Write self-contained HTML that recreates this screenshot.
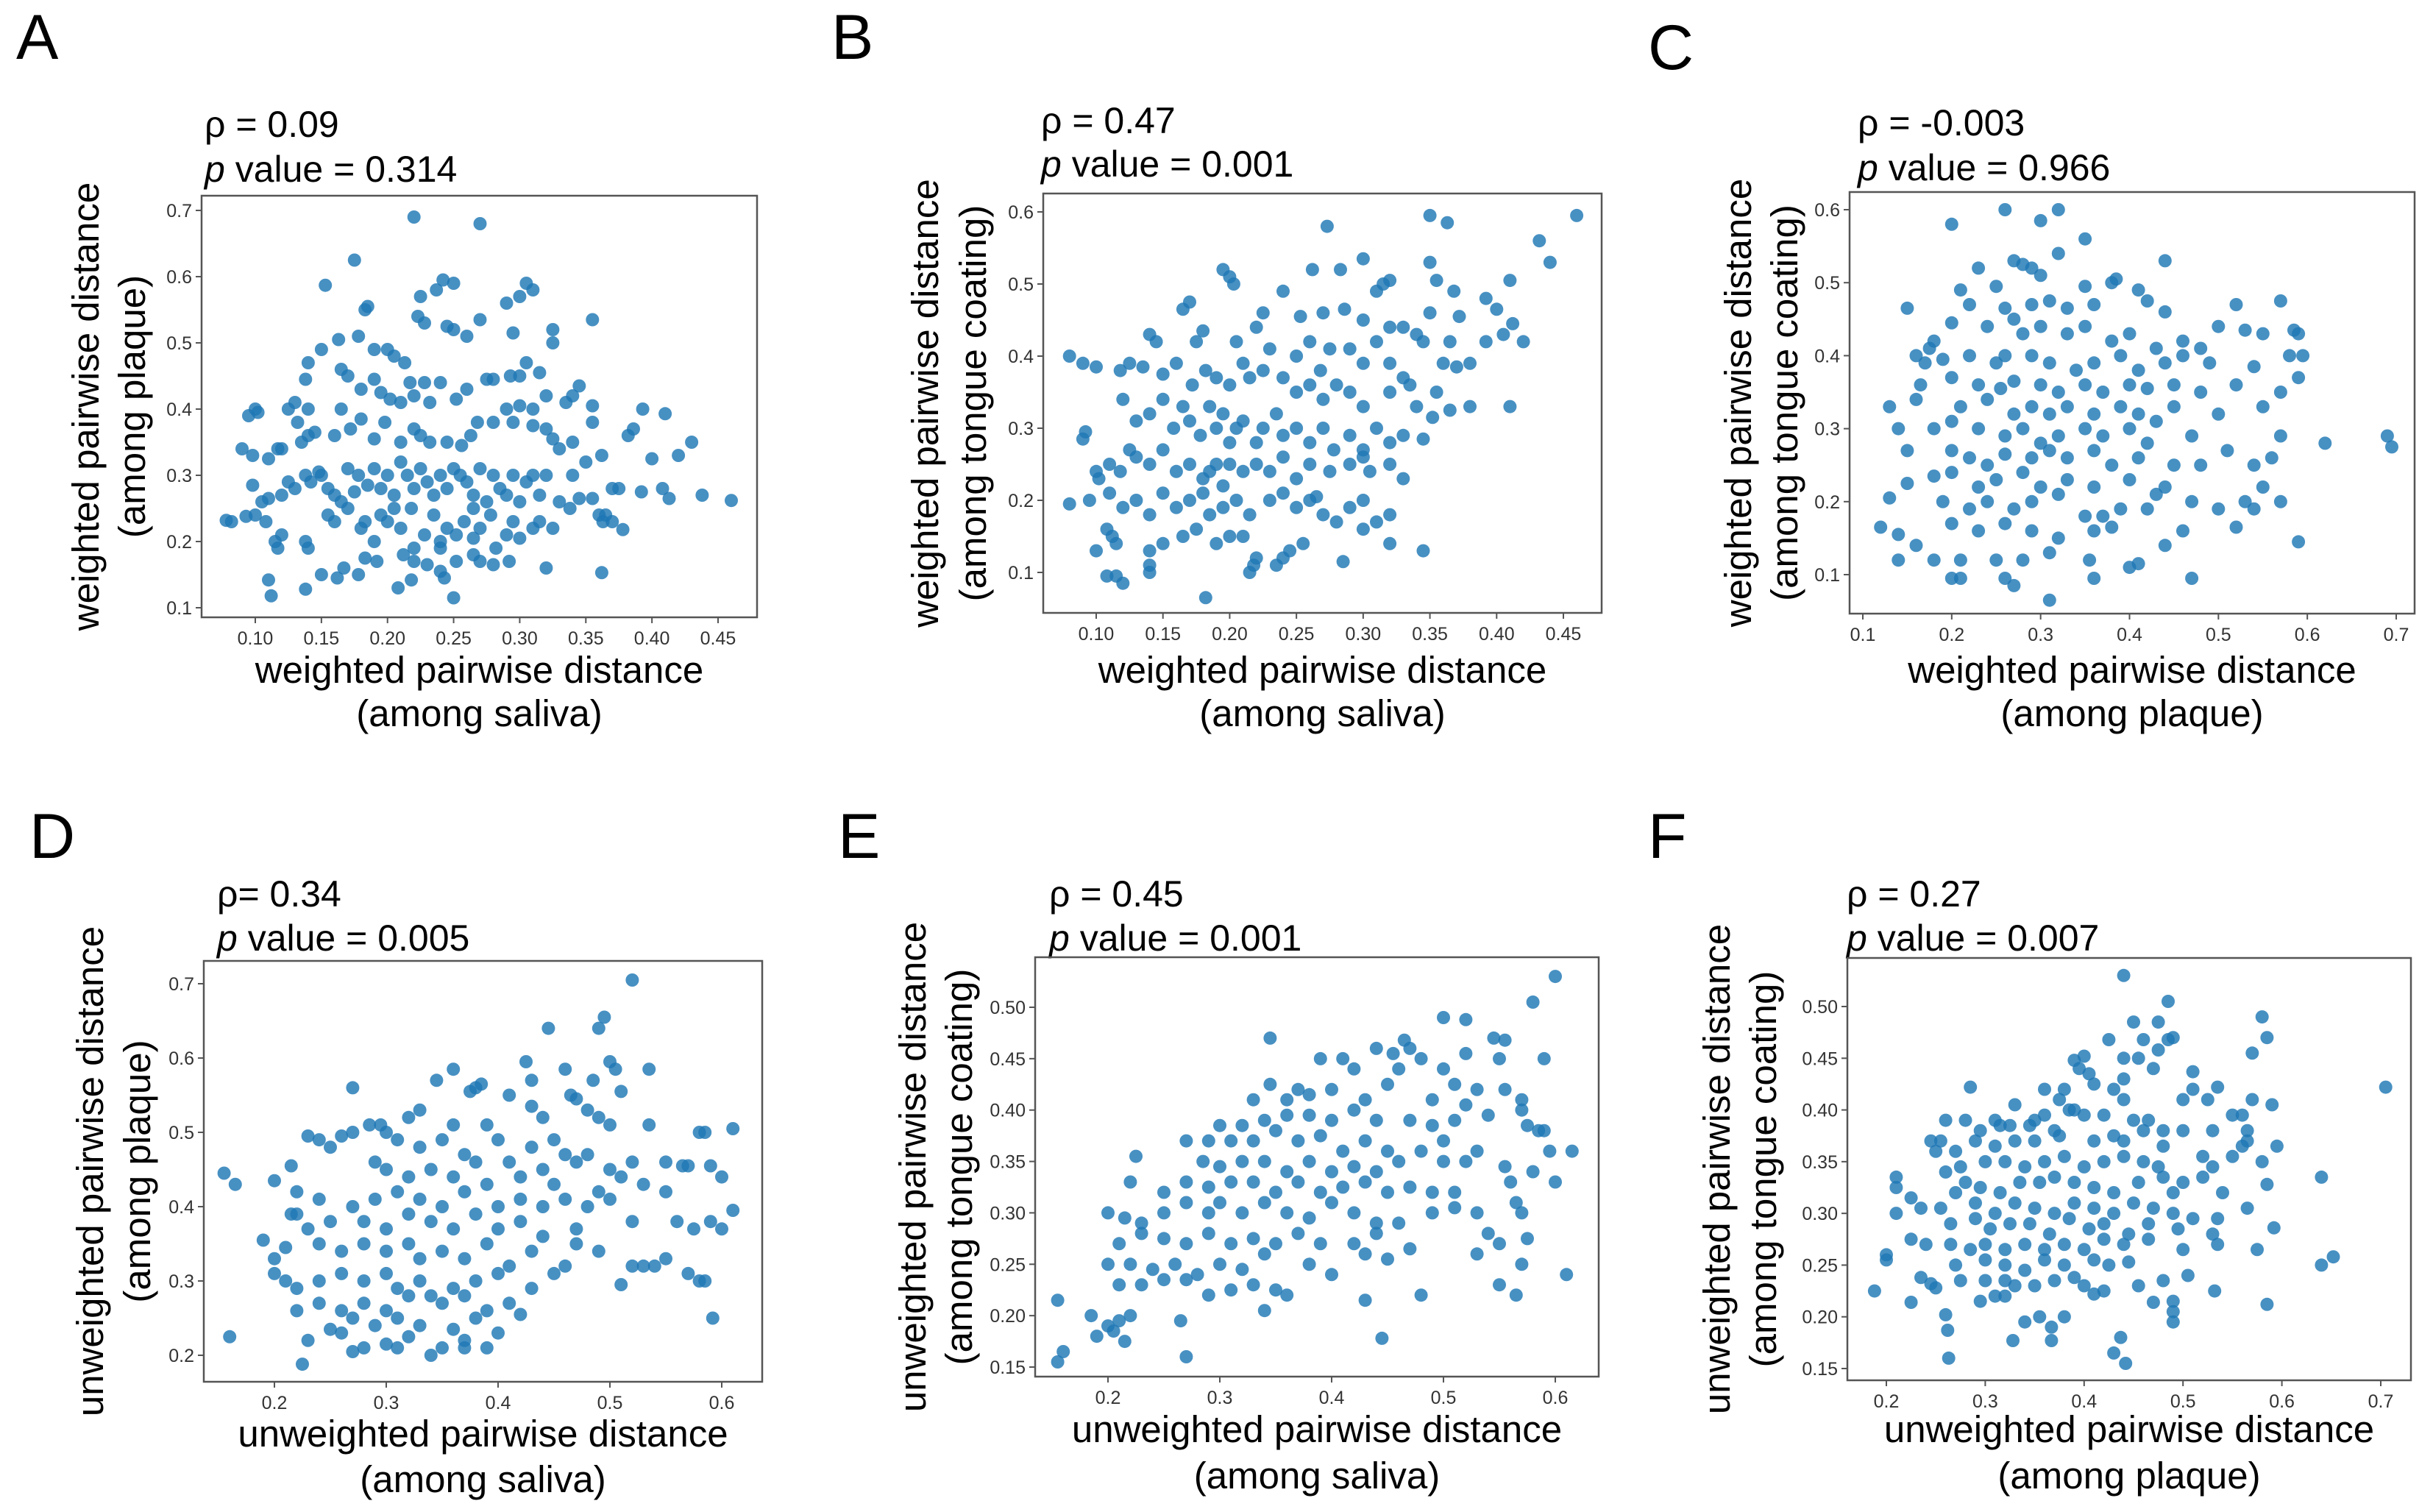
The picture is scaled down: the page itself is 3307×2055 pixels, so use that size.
<!DOCTYPE html>
<html><head><meta charset="utf-8"><style>
html,body{margin:0;padding:0;background:#fff}
svg{display:block}
text{font-family:"Liberation Sans",sans-serif;fill:#000}
.tick{font-size:25px;fill:#333}
.lab{font-size:51px}
.stat{font-size:50px}
.letter{font-size:86px}
</style></head><body>
<svg id="fig" width="3307" height="2055" viewBox="0 0 3307 2055" xmlns="http://www.w3.org/2000/svg"></svg>
<script>
const ptsA=[[0.22,0.69],[0.27,0.68],[0.175,0.625],[0.153,0.587],[0.225,0.57],[0.237,0.58],[0.242,0.595],[0.25,0.59],[0.30,0.57],[0.305,0.59],[0.31,0.58],[0.29,0.56],[0.183,0.55],[0.185,0.555],[0.223,0.54],[0.228,0.53],[0.245,0.525],[0.25,0.52],[0.26,0.51],[0.27,0.535],[0.295,0.515],[0.325,0.52],[0.355,0.535],[0.325,0.5],[0.163,0.505],[0.15,0.49],[0.178,0.51],[0.14,0.47],[0.19,0.49],[0.2,0.49],[0.205,0.48],[0.213,0.47],[0.165,0.46],[0.17,0.45],[0.138,0.445],[0.18,0.43],[0.19,0.445],[0.195,0.425],[0.202,0.415],[0.21,0.41],[0.217,0.44],[0.22,0.42],[0.228,0.44],[0.232,0.41],[0.24,0.44],[0.252,0.415],[0.26,0.43],[0.275,0.445],[0.28,0.445],[0.293,0.45],[0.3,0.45],[0.305,0.47],[0.315,0.455],[0.31,0.4],[0.32,0.42],[0.335,0.41],[0.345,0.435],[0.34,0.42],[0.355,0.405],[0.095,0.39],[0.1,0.4],[0.102,0.395],[0.125,0.4],[0.13,0.41],[0.14,0.4],[0.132,0.38],[0.14,0.36],[0.145,0.365],[0.135,0.35],[0.09,0.34],[0.098,0.33],[0.11,0.325],[0.117,0.34],[0.12,0.34],[0.165,0.4],[0.16,0.36],[0.172,0.37],[0.18,0.385],[0.19,0.355],[0.198,0.38],[0.21,0.35],[0.22,0.37],[0.225,0.36],[0.232,0.35],[0.245,0.35],[0.256,0.345],[0.263,0.36],[0.268,0.38],[0.28,0.38],[0.29,0.4],[0.295,0.38],[0.3,0.405],[0.31,0.375],[0.32,0.37],[0.325,0.355],[0.33,0.34],[0.34,0.35],[0.35,0.32],[0.355,0.38],[0.362,0.33],[0.382,0.36],[0.386,0.37],[0.393,0.4],[0.41,0.393],[0.43,0.35],[0.4,0.325],[0.42,0.33],[0.098,0.285],[0.105,0.26],[0.11,0.265],[0.12,0.27],[0.125,0.29],[0.13,0.28],[0.138,0.3],[0.142,0.29],[0.148,0.305],[0.15,0.3],[0.155,0.28],[0.16,0.27],[0.165,0.26],[0.17,0.31],[0.175,0.275],[0.178,0.3],[0.185,0.285],[0.19,0.31],[0.195,0.28],[0.2,0.3],[0.205,0.27],[0.21,0.32],[0.215,0.3],[0.22,0.28],[0.225,0.31],[0.23,0.29],[0.235,0.27],[0.24,0.3],[0.245,0.28],[0.25,0.31],[0.255,0.3],[0.26,0.29],[0.265,0.27],[0.27,0.31],[0.275,0.26],[0.28,0.3],[0.285,0.28],[0.29,0.27],[0.295,0.3],[0.3,0.26],[0.305,0.29],[0.31,0.3],[0.315,0.27],[0.32,0.3],[0.33,0.26],[0.34,0.3],[0.345,0.265],[0.355,0.265],[0.36,0.24],[0.37,0.28],[0.375,0.28],[0.392,0.275],[0.408,0.28],[0.413,0.265],[0.438,0.27],[0.46,0.262],[0.078,0.232],[0.082,0.23],[0.093,0.238],[0.1,0.24],[0.108,0.23],[0.115,0.2],[0.117,0.19],[0.12,0.21],[0.138,0.2],[0.14,0.19],[0.155,0.24],[0.16,0.23],[0.17,0.25],[0.18,0.22],[0.183,0.23],[0.19,0.2],[0.195,0.24],[0.2,0.23],[0.205,0.25],[0.21,0.22],[0.218,0.25],[0.22,0.19],[0.228,0.21],[0.235,0.24],[0.24,0.2],[0.245,0.22],[0.252,0.21],[0.258,0.23],[0.265,0.25],[0.27,0.22],[0.278,0.24],[0.282,0.19],[0.29,0.21],[0.295,0.23],[0.31,0.22],[0.315,0.23],[0.325,0.22],[0.338,0.25],[0.363,0.23],[0.365,0.24],[0.37,0.23],[0.378,0.218],[0.11,0.142],[0.112,0.118],[0.138,0.128],[0.15,0.15],[0.162,0.145],[0.167,0.16],[0.178,0.15],[0.183,0.175],[0.192,0.17],[0.208,0.13],[0.212,0.18],[0.218,0.142],[0.22,0.17],[0.23,0.165],[0.24,0.155],[0.243,0.145],[0.25,0.115],[0.252,0.17],[0.265,0.18],[0.27,0.17],[0.28,0.165],[0.292,0.17],[0.32,0.16],[0.362,0.153],[0.24,0.19],[0.265,0.205],[0.3,0.205]];
const ptsB=[[0.46,0.595],[0.35,0.595],[0.363,0.585],[0.273,0.58],[0.432,0.56],[0.44,0.53],[0.35,0.53],[0.3,0.535],[0.283,0.52],[0.262,0.52],[0.195,0.52],[0.2,0.51],[0.203,0.5],[0.315,0.5],[0.31,0.49],[0.32,0.505],[0.355,0.505],[0.368,0.49],[0.41,0.505],[0.392,0.48],[0.4,0.465],[0.412,0.445],[0.42,0.42],[0.405,0.43],[0.392,0.42],[0.24,0.49],[0.17,0.475],[0.165,0.465],[0.225,0.46],[0.253,0.455],[0.27,0.46],[0.286,0.465],[0.3,0.45],[0.32,0.44],[0.33,0.44],[0.34,0.43],[0.35,0.46],[0.372,0.455],[0.345,0.42],[0.36,0.39],[0.37,0.385],[0.38,0.39],[0.365,0.42],[0.14,0.43],[0.145,0.42],[0.18,0.435],[0.175,0.42],[0.205,0.42],[0.22,0.44],[0.23,0.41],[0.25,0.4],[0.26,0.42],[0.268,0.38],[0.275,0.41],[0.29,0.41],[0.3,0.39],[0.31,0.42],[0.32,0.39],[0.33,0.37],[0.335,0.36],[0.08,0.4],[0.09,0.39],[0.1,0.385],[0.118,0.38],[0.125,0.39],[0.135,0.385],[0.15,0.375],[0.16,0.39],[0.172,0.36],[0.182,0.38],[0.19,0.37],[0.2,0.36],[0.21,0.39],[0.215,0.37],[0.225,0.38],[0.24,0.37],[0.25,0.35],[0.26,0.36],[0.27,0.34],[0.28,0.36],[0.29,0.35],[0.3,0.33],[0.32,0.35],[0.34,0.33],[0.355,0.35],[0.38,0.33],[0.41,0.33],[0.352,0.315],[0.365,0.325],[0.12,0.34],[0.13,0.31],[0.14,0.32],[0.15,0.34],[0.158,0.3],[0.165,0.33],[0.17,0.31],[0.178,0.29],[0.185,0.33],[0.19,0.3],[0.195,0.32],[0.2,0.28],[0.205,0.3],[0.21,0.31],[0.22,0.28],[0.225,0.3],[0.235,0.32],[0.24,0.29],[0.25,0.3],[0.26,0.28],[0.27,0.3],[0.278,0.27],[0.29,0.29],[0.3,0.27],[0.31,0.3],[0.32,0.28],[0.33,0.29],[0.345,0.285],[0.09,0.285],[0.092,0.295],[0.1,0.24],[0.102,0.23],[0.11,0.25],[0.118,0.24],[0.125,0.27],[0.13,0.26],[0.14,0.25],[0.15,0.27],[0.16,0.24],[0.17,0.25],[0.18,0.23],[0.185,0.24],[0.19,0.25],[0.195,0.22],[0.2,0.25],[0.21,0.24],[0.22,0.25],[0.23,0.24],[0.24,0.26],[0.25,0.23],[0.26,0.25],[0.275,0.24],[0.29,0.25],[0.3,0.26],[0.305,0.24],[0.32,0.25],[0.33,0.23],[0.08,0.195],[0.095,0.2],[0.11,0.21],[0.12,0.19],[0.13,0.2],[0.14,0.18],[0.15,0.21],[0.16,0.19],[0.17,0.2],[0.18,0.21],[0.185,0.18],[0.195,0.19],[0.205,0.2],[0.215,0.18],[0.23,0.2],[0.24,0.21],[0.25,0.19],[0.26,0.2],[0.265,0.205],[0.27,0.18],[0.28,0.17],[0.29,0.19],[0.3,0.2],[0.31,0.17],[0.32,0.18],[0.108,0.16],[0.112,0.15],[0.1,0.13],[0.115,0.14],[0.14,0.13],[0.14,0.11],[0.15,0.14],[0.165,0.15],[0.175,0.16],[0.19,0.14],[0.2,0.15],[0.21,0.15],[0.218,0.11],[0.22,0.12],[0.235,0.11],[0.24,0.12],[0.245,0.13],[0.255,0.14],[0.285,0.115],[0.3,0.16],[0.32,0.14],[0.345,0.13],[0.108,0.095],[0.115,0.095],[0.12,0.085],[0.14,0.1],[0.182,0.065],[0.215,0.1]];
const ptsC=[[0.26,0.6],[0.32,0.6],[0.3,0.585],[0.2,0.58],[0.35,0.56],[0.27,0.53],[0.28,0.525],[0.32,0.54],[0.44,0.53],[0.23,0.52],[0.3,0.51],[0.29,0.52],[0.38,0.5],[0.385,0.505],[0.21,0.49],[0.25,0.495],[0.35,0.495],[0.41,0.49],[0.15,0.465],[0.22,0.47],[0.26,0.465],[0.29,0.47],[0.31,0.475],[0.33,0.465],[0.36,0.47],[0.42,0.475],[0.44,0.46],[0.52,0.47],[0.57,0.475],[0.2,0.445],[0.18,0.42],[0.175,0.41],[0.24,0.44],[0.27,0.45],[0.28,0.43],[0.3,0.44],[0.33,0.43],[0.35,0.44],[0.38,0.42],[0.4,0.43],[0.43,0.41],[0.46,0.42],[0.48,0.41],[0.5,0.44],[0.53,0.435],[0.55,0.43],[0.585,0.435],[0.59,0.43],[0.17,0.39],[0.16,0.4],[0.19,0.395],[0.22,0.4],[0.25,0.39],[0.26,0.4],[0.29,0.4],[0.31,0.39],[0.34,0.38],[0.36,0.39],[0.39,0.4],[0.41,0.38],[0.44,0.39],[0.46,0.4],[0.49,0.39],[0.54,0.385],[0.58,0.4],[0.595,0.4],[0.165,0.36],[0.2,0.37],[0.23,0.36],[0.255,0.355],[0.27,0.365],[0.3,0.36],[0.32,0.35],[0.35,0.36],[0.37,0.35],[0.4,0.36],[0.42,0.355],[0.45,0.36],[0.48,0.35],[0.52,0.36],[0.57,0.35],[0.59,0.37],[0.13,0.33],[0.16,0.34],[0.21,0.33],[0.24,0.34],[0.27,0.32],[0.29,0.33],[0.31,0.32],[0.33,0.33],[0.36,0.32],[0.39,0.33],[0.41,0.32],[0.43,0.31],[0.45,0.33],[0.5,0.32],[0.55,0.33],[0.14,0.3],[0.18,0.3],[0.2,0.31],[0.23,0.3],[0.26,0.29],[0.28,0.3],[0.3,0.28],[0.32,0.29],[0.35,0.3],[0.37,0.29],[0.4,0.3],[0.42,0.28],[0.47,0.29],[0.57,0.29],[0.62,0.28],[0.69,0.29],[0.695,0.275],[0.15,0.27],[0.2,0.27],[0.22,0.26],[0.24,0.25],[0.26,0.265],[0.29,0.26],[0.31,0.27],[0.33,0.26],[0.36,0.27],[0.38,0.25],[0.41,0.26],[0.45,0.25],[0.48,0.25],[0.51,0.27],[0.54,0.25],[0.56,0.26],[0.18,0.235],[0.15,0.225],[0.2,0.24],[0.23,0.22],[0.25,0.23],[0.28,0.24],[0.3,0.22],[0.33,0.23],[0.36,0.22],[0.4,0.23],[0.43,0.21],[0.44,0.22],[0.55,0.22],[0.13,0.205],[0.19,0.2],[0.22,0.19],[0.24,0.2],[0.27,0.19],[0.29,0.2],[0.32,0.21],[0.35,0.18],[0.37,0.18],[0.39,0.19],[0.42,0.19],[0.47,0.2],[0.5,0.19],[0.53,0.2],[0.54,0.19],[0.57,0.2],[0.12,0.165],[0.2,0.17],[0.23,0.16],[0.26,0.17],[0.29,0.16],[0.32,0.15],[0.36,0.16],[0.38,0.165],[0.46,0.16],[0.52,0.165],[0.59,0.145],[0.14,0.155],[0.16,0.14],[0.14,0.12],[0.18,0.12],[0.21,0.12],[0.25,0.12],[0.28,0.12],[0.31,0.13],[0.355,0.12],[0.4,0.11],[0.41,0.115],[0.44,0.14],[0.2,0.095],[0.21,0.095],[0.26,0.095],[0.27,0.085],[0.36,0.095],[0.47,0.095],[0.31,0.065]];
const ptsD=[[0.52,0.705],[0.495,0.655],[0.49,0.64],[0.445,0.64],[0.5,0.595],[0.505,0.585],[0.535,0.585],[0.425,0.595],[0.46,0.585],[0.36,0.585],[0.485,0.57],[0.43,0.57],[0.345,0.57],[0.385,0.565],[0.38,0.56],[0.375,0.555],[0.27,0.56],[0.465,0.55],[0.47,0.545],[0.43,0.535],[0.44,0.52],[0.33,0.53],[0.41,0.55],[0.51,0.555],[0.48,0.53],[0.49,0.52],[0.32,0.52],[0.285,0.51],[0.295,0.51],[0.36,0.51],[0.39,0.51],[0.5,0.51],[0.535,0.51],[0.23,0.495],[0.24,0.49],[0.25,0.48],[0.26,0.495],[0.27,0.5],[0.3,0.5],[0.31,0.49],[0.33,0.48],[0.35,0.49],[0.37,0.47],[0.4,0.49],[0.41,0.46],[0.43,0.48],[0.45,0.49],[0.46,0.47],[0.47,0.46],[0.48,0.47],[0.5,0.45],[0.52,0.46],[0.55,0.46],[0.58,0.5],[0.585,0.5],[0.61,0.505],[0.29,0.46],[0.3,0.45],[0.32,0.44],[0.34,0.45],[0.36,0.44],[0.38,0.46],[0.39,0.43],[0.42,0.44],[0.44,0.45],[0.45,0.43],[0.49,0.42],[0.51,0.44],[0.53,0.43],[0.565,0.455],[0.57,0.455],[0.59,0.455],[0.6,0.44],[0.155,0.445],[0.165,0.43],[0.2,0.435],[0.215,0.455],[0.22,0.42],[0.24,0.41],[0.27,0.4],[0.29,0.41],[0.31,0.42],[0.33,0.41],[0.35,0.4],[0.37,0.42],[0.4,0.4],[0.42,0.41],[0.44,0.4],[0.46,0.41],[0.48,0.4],[0.5,0.41],[0.55,0.42],[0.215,0.39],[0.22,0.39],[0.23,0.37],[0.25,0.38],[0.28,0.38],[0.3,0.37],[0.32,0.39],[0.34,0.38],[0.36,0.37],[0.38,0.39],[0.4,0.37],[0.42,0.38],[0.44,0.36],[0.47,0.37],[0.52,0.38],[0.56,0.38],[0.575,0.37],[0.59,0.38],[0.6,0.37],[0.61,0.395],[0.19,0.355],[0.2,0.33],[0.21,0.345],[0.24,0.35],[0.26,0.34],[0.28,0.35],[0.3,0.34],[0.32,0.35],[0.33,0.33],[0.35,0.34],[0.37,0.33],[0.39,0.35],[0.41,0.32],[0.43,0.34],[0.45,0.31],[0.47,0.35],[0.49,0.34],[0.53,0.32],[0.55,0.33],[0.57,0.31],[0.2,0.31],[0.21,0.3],[0.22,0.29],[0.24,0.3],[0.26,0.31],[0.28,0.3],[0.3,0.31],[0.31,0.29],[0.33,0.3],[0.34,0.28],[0.36,0.29],[0.38,0.3],[0.4,0.31],[0.43,0.29],[0.46,0.32],[0.51,0.295],[0.52,0.32],[0.54,0.32],[0.58,0.3],[0.585,0.3],[0.22,0.26],[0.24,0.27],[0.26,0.26],[0.28,0.27],[0.3,0.26],[0.32,0.28],[0.35,0.27],[0.37,0.28],[0.39,0.26],[0.41,0.27],[0.42,0.255],[0.25,0.235],[0.27,0.25],[0.29,0.24],[0.31,0.25],[0.33,0.24],[0.36,0.235],[0.38,0.25],[0.4,0.23],[0.26,0.23],[0.23,0.22],[0.28,0.21],[0.3,0.215],[0.32,0.225],[0.35,0.21],[0.37,0.22],[0.39,0.21],[0.16,0.225],[0.225,0.188],[0.27,0.205],[0.31,0.21],[0.34,0.2],[0.37,0.21],[0.592,0.25]];
const ptsE=[[0.6,0.53],[0.58,0.505],[0.5,0.49],[0.52,0.488],[0.345,0.47],[0.465,0.468],[0.545,0.47],[0.555,0.468],[0.47,0.46],[0.455,0.455],[0.44,0.46],[0.59,0.45],[0.39,0.45],[0.41,0.45],[0.52,0.455],[0.55,0.45],[0.48,0.45],[0.42,0.44],[0.46,0.44],[0.5,0.44],[0.345,0.425],[0.37,0.42],[0.4,0.42],[0.45,0.425],[0.51,0.425],[0.53,0.42],[0.555,0.42],[0.33,0.41],[0.36,0.41],[0.38,0.415],[0.43,0.41],[0.49,0.41],[0.52,0.405],[0.57,0.41],[0.3,0.385],[0.32,0.385],[0.34,0.39],[0.36,0.395],[0.38,0.395],[0.4,0.39],[0.42,0.4],[0.44,0.39],[0.47,0.39],[0.49,0.385],[0.51,0.39],[0.54,0.395],[0.57,0.4],[0.575,0.385],[0.585,0.38],[0.59,0.38],[0.27,0.37],[0.29,0.37],[0.31,0.37],[0.33,0.37],[0.35,0.38],[0.37,0.37],[0.39,0.375],[0.41,0.36],[0.43,0.37],[0.45,0.36],[0.48,0.36],[0.5,0.37],[0.53,0.36],[0.595,0.36],[0.615,0.36],[0.285,0.35],[0.3,0.345],[0.32,0.35],[0.34,0.35],[0.36,0.34],[0.38,0.35],[0.4,0.34],[0.42,0.345],[0.44,0.34],[0.46,0.35],[0.5,0.35],[0.52,0.35],[0.555,0.345],[0.58,0.34],[0.225,0.355],[0.22,0.33],[0.25,0.32],[0.27,0.33],[0.29,0.325],[0.31,0.33],[0.33,0.33],[0.35,0.32],[0.37,0.33],[0.39,0.32],[0.41,0.325],[0.43,0.33],[0.45,0.32],[0.47,0.325],[0.49,0.32],[0.51,0.32],[0.56,0.33],[0.6,0.33],[0.2,0.3],[0.215,0.295],[0.23,0.29],[0.25,0.3],[0.27,0.31],[0.29,0.3],[0.3,0.31],[0.32,0.3],[0.34,0.31],[0.36,0.3],[0.38,0.295],[0.4,0.31],[0.42,0.3],[0.44,0.29],[0.46,0.29],[0.49,0.3],[0.51,0.305],[0.53,0.3],[0.565,0.31],[0.57,0.3],[0.21,0.27],[0.23,0.28],[0.25,0.275],[0.27,0.27],[0.29,0.28],[0.31,0.27],[0.33,0.275],[0.35,0.27],[0.37,0.28],[0.39,0.27],[0.42,0.27],[0.44,0.28],[0.47,0.265],[0.54,0.28],[0.55,0.27],[0.575,0.275],[0.2,0.25],[0.22,0.25],[0.24,0.245],[0.26,0.25],[0.28,0.24],[0.3,0.25],[0.32,0.245],[0.34,0.26],[0.38,0.25],[0.4,0.24],[0.43,0.26],[0.45,0.255],[0.53,0.26],[0.57,0.25],[0.61,0.24],[0.21,0.23],[0.23,0.23],[0.25,0.235],[0.27,0.235],[0.29,0.22],[0.31,0.225],[0.33,0.23],[0.35,0.225],[0.36,0.22],[0.43,0.215],[0.55,0.23],[0.565,0.22],[0.48,0.22],[0.34,0.205],[0.155,0.215],[0.185,0.2],[0.2,0.19],[0.21,0.195],[0.22,0.2],[0.19,0.18],[0.205,0.185],[0.215,0.175],[0.265,0.195],[0.445,0.178],[0.16,0.165],[0.155,0.155],[0.27,0.16]];
const ptsF=[[0.44,0.53],[0.485,0.505],[0.58,0.49],[0.45,0.485],[0.475,0.485],[0.585,0.47],[0.425,0.468],[0.46,0.468],[0.485,0.468],[0.49,0.47],[0.57,0.455],[0.44,0.45],[0.455,0.45],[0.475,0.458],[0.39,0.448],[0.4,0.452],[0.395,0.44],[0.47,0.44],[0.51,0.437],[0.285,0.422],[0.36,0.42],[0.38,0.42],[0.405,0.435],[0.41,0.425],[0.43,0.42],[0.44,0.43],[0.51,0.42],[0.535,0.422],[0.705,0.422],[0.375,0.41],[0.385,0.4],[0.39,0.4],[0.44,0.41],[0.5,0.41],[0.525,0.41],[0.57,0.41],[0.59,0.405],[0.33,0.405],[0.26,0.39],[0.28,0.39],[0.295,0.38],[0.31,0.39],[0.35,0.39],[0.36,0.395],[0.4,0.395],[0.42,0.395],[0.45,0.39],[0.465,0.39],[0.48,0.38],[0.55,0.395],[0.56,0.395],[0.315,0.385],[0.325,0.385],[0.33,0.37],[0.345,0.385],[0.37,0.38],[0.43,0.375],[0.46,0.38],[0.5,0.38],[0.53,0.38],[0.565,0.38],[0.245,0.37],[0.255,0.37],[0.27,0.36],[0.29,0.37],[0.31,0.365],[0.35,0.37],[0.375,0.375],[0.41,0.37],[0.44,0.37],[0.48,0.365],[0.56,0.365],[0.565,0.37],[0.595,0.365],[0.25,0.36],[0.26,0.34],[0.275,0.345],[0.3,0.35],[0.32,0.35],[0.34,0.345],[0.36,0.35],[0.38,0.355],[0.4,0.345],[0.42,0.35],[0.44,0.355],[0.46,0.35],[0.475,0.345],[0.52,0.355],[0.53,0.345],[0.55,0.355],[0.58,0.35],[0.64,0.335],[0.21,0.335],[0.21,0.325],[0.28,0.33],[0.295,0.325],[0.315,0.32],[0.335,0.33],[0.355,0.33],[0.37,0.335],[0.39,0.33],[0.41,0.325],[0.43,0.32],[0.455,0.33],[0.48,0.335],[0.5,0.33],[0.52,0.335],[0.54,0.32],[0.585,0.328],[0.225,0.315],[0.235,0.305],[0.21,0.3],[0.255,0.305],[0.27,0.32],[0.29,0.31],[0.31,0.3],[0.33,0.31],[0.35,0.305],[0.37,0.3],[0.39,0.31],[0.41,0.305],[0.43,0.3],[0.45,0.31],[0.47,0.305],[0.49,0.32],[0.49,0.3],[0.51,0.295],[0.535,0.295],[0.565,0.305],[0.265,0.29],[0.29,0.295],[0.305,0.285],[0.325,0.29],[0.345,0.29],[0.365,0.28],[0.385,0.295],[0.405,0.285],[0.42,0.29],[0.445,0.28],[0.465,0.29],[0.495,0.285],[0.53,0.28],[0.225,0.275],[0.24,0.27],[0.265,0.27],[0.285,0.265],[0.3,0.27],[0.32,0.265],[0.34,0.27],[0.36,0.265],[0.38,0.27],[0.4,0.265],[0.42,0.275],[0.44,0.27],[0.465,0.275],[0.5,0.265],[0.535,0.27],[0.575,0.265],[0.592,0.286],[0.2,0.26],[0.2,0.255],[0.27,0.25],[0.3,0.255],[0.32,0.25],[0.34,0.245],[0.36,0.255],[0.38,0.25],[0.41,0.255],[0.425,0.25],[0.445,0.253],[0.64,0.25],[0.652,0.258],[0.235,0.238],[0.245,0.232],[0.25,0.228],[0.275,0.235],[0.3,0.235],[0.32,0.235],[0.33,0.23],[0.35,0.23],[0.37,0.235],[0.39,0.238],[0.4,0.23],[0.42,0.225],[0.455,0.23],[0.48,0.235],[0.505,0.24],[0.188,0.225],[0.295,0.215],[0.225,0.214],[0.31,0.22],[0.32,0.22],[0.41,0.222],[0.47,0.214],[0.49,0.215],[0.585,0.212],[0.26,0.202],[0.34,0.195],[0.355,0.2],[0.38,0.2],[0.49,0.205],[0.49,0.195],[0.532,0.225],[0.262,0.187],[0.367,0.19],[0.328,0.177],[0.367,0.177],[0.437,0.18],[0.43,0.165],[0.442,0.155],[0.263,0.16]];

const xTicksA=[0.10,0.15,0.20,0.25,0.30,0.35,0.40,0.45];
const xLabelsA=["0.10","0.15","0.20","0.25","0.30","0.35","0.40","0.45"];
const yTicksA=[0.1,0.2,0.3,0.4,0.5,0.6,0.7];
const yLabelsA=["0.1","0.2","0.3","0.4","0.5","0.6","0.7"];
const yTicksB=[0.1,0.2,0.3,0.4,0.5,0.6];
const yLabelsB=["0.1","0.2","0.3","0.4","0.5","0.6"];
const xTicksC=[0.1,0.2,0.3,0.4,0.5,0.6,0.7];
const xLabelsC=["0.1","0.2","0.3","0.4","0.5","0.6","0.7"];
const xTicksD=[0.2,0.3,0.4,0.5,0.6];
const xLabelsD=["0.2","0.3","0.4","0.5","0.6"];
const yTicksD=[0.2,0.3,0.4,0.5,0.6,0.7];
const yLabelsD=["0.2","0.3","0.4","0.5","0.6","0.7"];
const yTicksE=[0.15,0.20,0.25,0.30,0.35,0.40,0.45,0.50];
const yLabelsE=["0.15","0.20","0.25","0.30","0.35","0.40","0.45","0.50"];
const xTicksF=[0.2,0.3,0.4,0.5,0.6,0.7];
const xLabelsF=["0.2","0.3","0.4","0.5","0.6","0.7"];

const NS="http://www.w3.org/2000/svg";
const svg=document.getElementById('fig');
function mk(tag,attrs,parent){const e=document.createElementNS(NS,tag);for(const k in attrs)e.setAttribute(k,attrs[k]);(parent||svg).appendChild(e);return e;}

const panels=[
 {id:'a',L:'A',pts:ptsA,fr:[274,266,1029,839],xa:[0.10,347,0.45,976],ya:[0.7,286,0.1,826],xt:xTicksA,xl:xLabelsA,yt:yTicksA,yl:yLabelsA,
  rho:'ρ = 0.09',pv:' value = 0.314',lp:[22,80],sp:[278,186,247],xlab:['weighted pairwise distance','(among saliva)'],xb:[928,987],ylab:['weighted pairwise distance','(among plaque)'],yx:[116,179]},
 {id:'b',L:'B',pts:ptsB,fr:[1418,263,2177,833],xa:[0.10,1490,0.45,2125],ya:[0.6,288,0.1,778],xt:xTicksA,xl:xLabelsA,yt:yTicksB,yl:yLabelsB,
  rho:'ρ = 0.47',pv:' value = 0.001',lp:[1130,80],sp:[1415,181,240],xlab:['weighted pairwise distance','(among saliva)'],xb:[928,987],ylab:['weighted pairwise distance','(among tongue coating)'],yx:[1257,1322]},
 {id:'c',L:'C',pts:ptsC,fr:[2514,261,3282,834],xa:[0.1,2532,0.7,3257],ya:[0.6,285,0.1,781],xt:xTicksC,xl:xLabelsC,yt:yTicksB,yl:yLabelsB,
  rho:'ρ = -0.003',pv:' value = 0.966',lp:[2240,94],sp:[2525,184,245],xlab:['weighted pairwise distance','(among plaque)'],xb:[928,987],ylab:['weighted pairwise distance','(among tongue coating)'],yx:[2362,2425]},
 {id:'d',L:'D',pts:ptsD,fr:[277,1306,1036,1878],xa:[0.2,373,0.6,981],ya:[0.7,1337,0.2,1842],xt:xTicksD,xl:xLabelsD,yt:yTicksD,yl:yLabelsD,
  rho:'ρ= 0.34',pv:' value = 0.005',lp:[40,1166],sp:[295,1232,1292],xlab:['unweighted pairwise distance','(among saliva)'],xb:[1966,2028],ylab:['unweighted pairwise distance','(among plaque)'],yx:[122,186]},
 {id:'e',L:'E',pts:ptsE,fr:[1407,1301,2173,1871],xa:[0.2,1506,0.6,2114],ya:[0.5,1369,0.15,1858],xt:xTicksD,xl:xLabelsD,yt:yTicksE,yl:yLabelsE,
  rho:'ρ = 0.45',pv:' value = 0.001',lp:[1139,1166],sp:[1426,1232,1292],xlab:['unweighted pairwise distance','(among saliva)'],xb:[1960,2023],ylab:['unweighted pairwise distance','(among tongue coating)'],yx:[1240,1303]},
 {id:'f',L:'F',pts:ptsF,fr:[2511,1302,3277,1876],xa:[0.2,2564,0.7,3236],ya:[0.5,1368,0.15,1860],xt:xTicksF,xl:xLabelsF,yt:yTicksE,yl:yLabelsE,
  rho:'ρ = 0.27',pv:' value = 0.007',lp:[2240,1166],sp:[2510,1232,1292],xlab:['unweighted pairwise distance','(among plaque)'],xb:[1960,2023],ylab:['unweighted pairwise distance','(among tongue coating)'],yx:[2333,2396]}
];

panels.forEach(p=>{
  const g=mk('g',{});
  
  
  const sx=v=>p.xa[1]+(v-p.xa[0])*(p.xa[3]-p.xa[1])/(p.xa[2]-p.xa[0]);
  const sy=v=>p.ya[1]+(v-p.ya[0])*(p.ya[3]-p.ya[1])/(p.ya[2]-p.ya[0]);
  const [x0,y0,x1,y1]=p.fr;
  const lt=mk('text',{x:p.lp[0],y:p.lp[1],class:'letter'},g);lt.textContent=p.L;
  
  
  const r=mk('text',{x:p.sp[0],y:p.sp[1],class:'stat'},g);r.textContent=p.rho;
  
  
  const pv=mk('text',{x:p.sp[0],y:p.sp[2],class:'stat'},g);
  const pi=mk('tspan',{'font-style':'italic'},pv);pi.textContent='p';
  const pr=mk('tspan',{},pv);pr.textContent=p.pv;
  
  
  const pg=mk('g',{},g);
  
  
  p.pts.forEach(d=>{
    const c=mk('circle',{cx:sx(d[0]).toFixed(1),cy:sy(d[1]).toFixed(1),r:9,fill:'#1f77b4','fill-opacity':0.82},pg);
    
    
  });
  const fr=mk('rect',{x:x0,y:y0,width:x1-x0,height:y1-y0,fill:'none',stroke:'#555','stroke-width':2.5},g);
  
  
  p.xt.forEach((v,i)=>{
    const X=sx(v);
    mk('line',{x1:X,x2:X,y1:y1,y2:y1+8,stroke:'#555','stroke-width':2},g);
    const t=mk('text',{x:X,y:y1+37,class:'tick','text-anchor':'middle'},g);t.textContent=p.xl[i];
    
    
  });
  p.yt.forEach((v,i)=>{
    const Y=sy(v);
    mk('line',{x1:x0-8,x2:x0,y1:Y,y2:Y,stroke:'#555','stroke-width':2},g);
    const t=mk('text',{x:x0-13,y:Y+9,class:'tick','text-anchor':'end'},g);t.textContent=p.yl[i];
    
    
  });
  const cx=(x0+x1)/2;
  p.xlab.forEach((s,i)=>{
    const t=mk('text',{x:cx,y:p.xb[i],class:'lab','text-anchor':'middle'},g);t.textContent=s;
    
    
  });
  const cy=(y0+y1)/2;
  p.ylab.forEach((s,i)=>{
    const X=p.yx[i]+18;
    const t=mk('text',{x:X,y:cy,class:'lab','text-anchor':'middle',transform:`rotate(-90 ${X} ${cy})`},g);t.textContent=s;
    
    
  });
});
</script>
</body></html>
